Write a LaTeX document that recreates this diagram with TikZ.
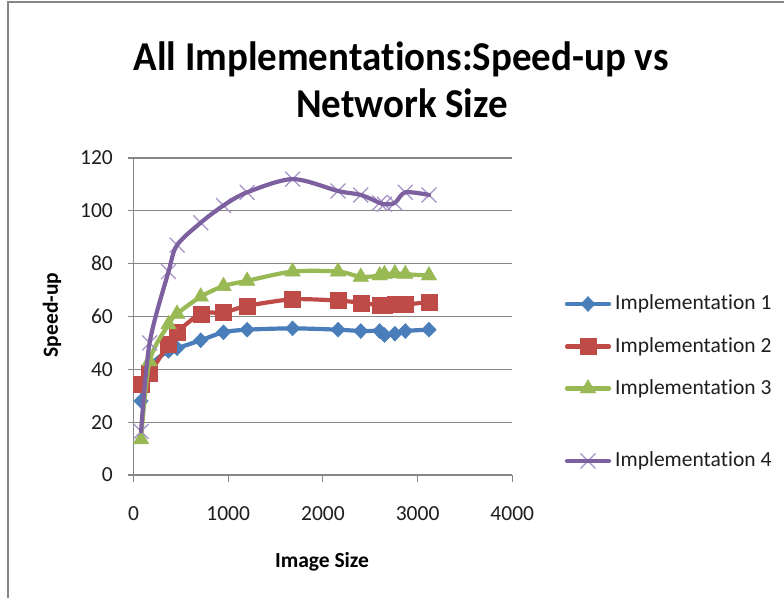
\documentclass[tikz,border=0pt]{standalone}
\usepackage{fontspec}
\setmainfont{Carlito}[Ligatures={NoCommon,NoContextual}, Contextuals=NoAlternate]
\usetikzlibrary{plotmarks}

\definecolor{serA}{RGB}{74,126,187}
\definecolor{serB}{RGB}{190,75,72}
\definecolor{serC}{RGB}{152,185,84}
\definecolor{serD}{RGB}{125,96,160}
\definecolor{serDmark}{RGB}{165,145,200}
\definecolor{gridc}{RGB}{134,134,134}
\definecolor{labc}{RGB}{30,30,30}

\tikzset{
  gridline/.style={gridc, line width=1.1pt},
  axisline/.style={gridc, line width=1.1pt},
  ticklabel/.style={font=\fontsize{21.5}{24}\selectfont, text=labc, inner sep=0pt},
  axistitle/.style={font=\bfseries\fontsize{21.5}{24}\selectfont, inner sep=0pt},
  titletext/.style={font=\bfseries\fontsize{41}{48}\selectfont, inner sep=0pt, anchor=base, xscale=0.95, transform shape},
  legendtext/.style={font=\fontsize{21.5}{24}\selectfont, text=labc, inner sep=0pt, anchor=west},
  seriesline/.style={line width=4.2pt, line join=round, line cap=round, smooth, tension=0.5},
  legline/.style={line width=4.2pt, line cap=round},
  markA/.style={mark=diamond*, mark size=7.5, mark options={serA, fill=serA, xscale=1.3}},
  markB/.style={mark=square*, mark size=8, mark options={serB, fill=serB}},
  markC/.style={mark=triangle*, mark size=9, mark options={serC, fill=serC}},
  markD/.style={mark=x, mark size=10.5, mark options={serDmark, line width=1.2pt}},
}

\begin{document}
\begin{tikzpicture}[x=1pt, y=-1pt]
  \fill[white] (0,0) rectangle (784,598);
  \useasboundingbox (0,0) rectangle (784,598);

  % chart frame (top and left edges)
  \draw[gridc, line width=1.6pt] (8,598) -- (8,2) -- (784,2);

  % title
  \node[titletext] (title1) at (401,70) {All Implementa\kern0pt tions:Speed-up vs};
  \node[titletext] (title2) at (402,117) {Network Size};

  % axis titles
  \node[axistitle, rotate=90] (ytitle) at (52,315) {Speed-up};
  \node[axistitle, anchor=base] (xtitle) at (322,567) {Image Size};

  % plot area
  \begin{scope}[shift={(133.5,475)}, x=0.0947pt, y=2.642pt]
    \foreach \v in {20,40,...,120}
      \draw[gridline] (0,\v) -- (4000,\v);
    \draw[axisline] (0,0) -- (0,120);
    \draw[axisline] (0,0) -- (4000,0);
    \foreach \v in {0,20,...,120} {
      \draw[axisline] (0,\v) -- ++(-6pt,0);
      \node[ticklabel, anchor=east] at ([xshift=-20.5pt]0,\v) {\v};
    }
    \foreach \v in {0,1000,...,4000} {
      \draw[axisline] (\v,0) -- ++(0,-7pt);
      \node[ticklabel, anchor=base] at ([yshift=-45pt]\v,0) {\v};
    }

    % Implementation 1
    \def\dataA{(80,28) (170,41) (370,47) (460,48) (710,51) (950,54) (1200,55) (1680,55.5) (2160,55) (2400,54.5) (2600,54.5) (2650,53) (2760,53.5) (2870,54.5) (3120,55)}
    \draw[serA, seriesline] plot coordinates {\dataA};
    \draw plot[only marks, markA] coordinates {\dataA};

    % Implementation 2
    \def\dataB{(80,34.5) (170,38.5) (370,49.5) (460,54) (710,61) (950,61.5) (1200,64) (1680,66.5) (2160,66) (2400,65.2) (2600,64.2) (2650,64.2) (2760,64.5) (2870,64.5) (3120,65.5)}
    \draw[serB, seriesline] plot coordinates {\dataB};
    \draw plot[only marks, markB] coordinates {\dataB};

    % Implementation 3
    \def\dataC{(80,13.5) (170,43) (370,57) (460,61) (710,67.5) (950,71.5) (1200,73.5) (1680,77) (2160,77) (2400,75) (2600,75.5) (2650,76) (2760,76.3) (2870,76) (3120,75.5)}
    \draw[serC, seriesline] plot coordinates {\dataC};
    \draw plot[only marks, markC] coordinates {\dataC};

    % Implementation 4
    \def\dataD{(80,16.5) (170,50) (370,77) (460,87) (710,95.5) (950,102) (1200,107) (1680,112) (2160,107.5) (2400,106) (2600,103) (2650,102.5) (2760,103) (2870,107) (3120,106)}
    \draw plot[only marks, markD] coordinates {\dataD};
    \draw[serD, seriesline] plot coordinates {\dataD};
  \end{scope}

  % legend
  \coordinate (legA) at (588,304);
  \coordinate (legB) at (588,346.5);
  \coordinate (legC) at (588,388.5);
  \coordinate (legD) at (588,461);
  \draw[serA, legline] ([xshift=-21pt]legA) -- ([xshift=21pt]legA);
  \draw plot[only marks, markA] coordinates {(legA)};
  \node[legendtext] (textA) at (615,304) {Implementa\kern0pt tion 1};
  \draw[serB, legline] ([xshift=-21pt]legB) -- ([xshift=21pt]legB);
  \draw plot[only marks, markB] coordinates {(legB)};
  \node[legendtext] (textB) at (615,346.5) {Implementa\kern0pt tion 2};
  \draw[serC, legline] ([xshift=-21pt]legC) -- ([xshift=21pt]legC);
  \draw plot[only marks, markC] coordinates {(legC)};
  \node[legendtext] (textC) at (615,388.5) {Implementa\kern0pt tion 3};
  \draw plot[only marks, markD] coordinates {(legD)};
  \draw[serD, legline] ([xshift=-21pt]legD) -- ([xshift=21pt]legD);
  \node[legendtext] (textD) at (615,461) {Implementa\kern0pt tion 4};
\end{tikzpicture}
\end{document}
